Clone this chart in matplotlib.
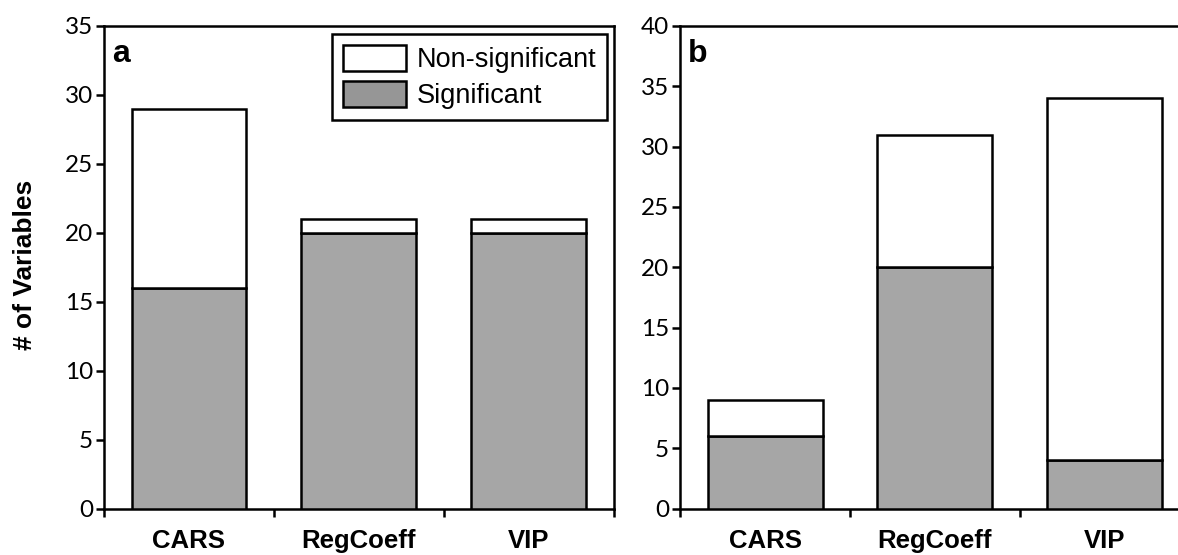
import matplotlib
matplotlib.use("Agg")
import matplotlib.pyplot as plt
from matplotlib.patches import Patch
import numpy as np

# Variable-selection methods and counts of selected variables
methods = ["CARS", "RegCoeff", "VIP"]

# Panel a
sig_a = [16, 20, 20]
total_a = [29, 21, 21]

# Panel b
sig_b = [6, 20, 4]
total_b = [9, 31, 34]

ylim_a = 35
ylim_b = 40

GRAY = "#a6a6a6"
LEGEND_GRAY = "#969696"
LW = 1.8

TICK_FONT = "Lato"
BOLD_FONT = "Liberation Sans"

W, H = 1178, 555
fig = plt.figure(figsize=(W / 100, H / 100), dpi=100)


def px_axes(left, top, right, bottom):
    return fig.add_axes([left / W, 1 - bottom / H, (right - left) / W, (bottom - top) / H])


ax_a = px_axes(104, 26, 614, 508.5)
ax_b = px_axes(680, 26, 1190, 508.5)


def draw_panel(ax, sig, total, ymax, letter):
    x = np.arange(len(methods)) + 0.5
    nonsig = np.array(total) - np.array(sig)
    width = 115 / 170
    ax.bar(x, sig, width=width, color=GRAY, edgecolor="black", linewidth=LW, zorder=3)
    ax.bar(x, nonsig, bottom=sig, width=width, color="white", edgecolor="black",
           linewidth=LW, zorder=3)
    ax.set_xlim(0, len(methods))
    ax.set_ylim(0, ymax)
    ax.set_yticks(np.arange(0, ymax + 1, 5))
    ax.set_xticks(np.arange(0, len(methods) + 1))
    ax.set_xticklabels([])
    ax.set_xticks(x, minor=True)
    ax.set_xticklabels(methods, minor=True, fontfamily=BOLD_FONT, fontweight="bold",
                       fontsize=18.5)
    ax.tick_params(axis="x", which="minor", length=0, pad=15)
    ax.tick_params(axis="x", which="major", length=6, width=LW, direction="out")
    ax.tick_params(axis="y", which="major", length=6, width=LW, direction="out", pad=2)
    for lab in ax.get_yticklabels():
        lab.set_fontfamily(TICK_FONT)
        lab.set_fontsize(17.5)
    for s in ax.spines.values():
        s.set_linewidth(LW)
    ax.text(8 / 510, (508.5 - 62) / 482.5, letter, transform=ax.transAxes,
            fontfamily=BOLD_FONT, fontweight="bold", fontsize=23,
            ha="left", va="baseline")


draw_panel(ax_a, sig_a, total_a, ylim_a, "a")
draw_panel(ax_b, sig_b, total_b, ylim_b, "b")

handles = [
    Patch(facecolor="white", edgecolor="black", linewidth=LW, label="Non-significant"),
    Patch(facecolor=LEGEND_GRAY, edgecolor="black", linewidth=LW, label="Significant"),
]
leg = ax_a.legend(handles=handles, loc="upper right", bbox_to_anchor=(0.986, 0.984),
                  prop={"family": BOLD_FONT, "size": 19.5}, frameon=True, fancybox=False,
                  framealpha=1, edgecolor="black", handlelength=2.3, handleheight=1.1,
                  handletextpad=0.4, borderpad=0.4, labelspacing=0.3,
                  borderaxespad=0)
leg.get_frame().set_linewidth(LW)

fig.text(25 / W, 1 - 265 / H, "# of Variables", rotation=90, ha="center", va="center",
         fontfamily=BOLD_FONT, fontweight="bold", fontsize=19)

fig.savefig("out.png", dpi=100)
